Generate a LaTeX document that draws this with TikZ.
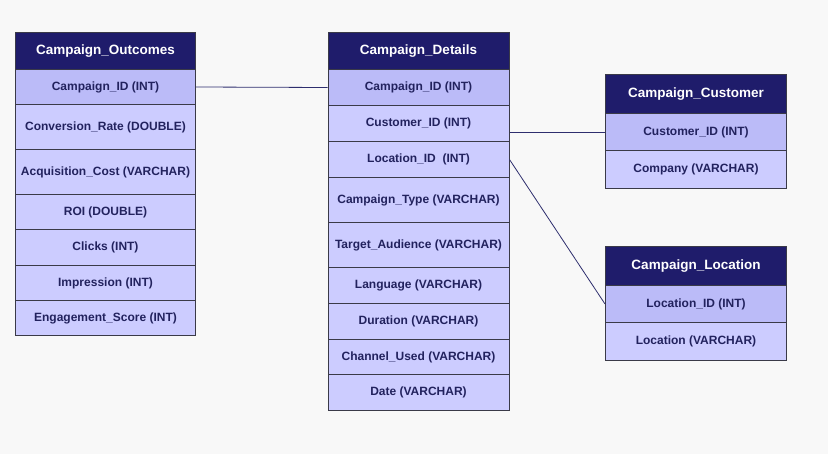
\documentclass[tikz,border=0pt]{standalone}
\usepackage{fontspec}
\setmainfont{Liberation Sans}
\definecolor{bgc}{HTML}{F8F8F8}
\definecolor{hdrc}{HTML}{1F1C6B}
\definecolor{rowc}{HTML}{CCCCFF}
\definecolor{keyc}{HTML}{BBBBF8}
\definecolor{txtc}{HTML}{22225E}
\definecolor{edgec}{HTML}{3A3A48}
\definecolor{linkc}{HTML}{2E2E6E}
\begin{document}
\begin{tikzpicture}[x=1pt,y=-1pt,
  cell/.style={draw=edgec, line width=1pt, anchor=north west, inner sep=0pt, minimum width=180pt, align=center},
  hdr/.style={cell, fill=hdrc, text=white, font=\fontsize{13.5}{15}\selectfont\bfseries},
  fld/.style={cell, fill=rowc, text=txtc, font=\fontsize{12}{14}\selectfont\bfseries},
  keyfld/.style={fld, fill=keyc},
  link/.style={draw=linkc, line width=0.8pt}]
\fill[bgc] (0,0) rectangle (828,454);
\useasboundingbox (0,0) rectangle (828,454);
% Campaign_Outcomes
\node[hdr, minimum height=37pt] (o0) at (15,32) {Campaign\_Outcomes};
\node[keyfld, minimum height=35pt] (o1) at (15,69) {Campaign\_ID (INT)};
\node[fld, minimum height=45pt] (o2) at (15,104) {Conversion\_Rate (DOUBLE)};
\node[fld, minimum height=45pt] (o3) at (15,149) {Acquisition\_Cost (VARCHAR)};
\node[fld, minimum height=35.5pt] (o4) at (15,194) {ROI (DOUBLE)};
\node[fld, minimum height=35.5pt] (o5) at (15,229.5) {Clicks (INT)};
\node[fld, minimum height=35.5pt] (o6) at (15,265) {Impression (INT)};
\node[fld, minimum height=34.5pt] (o7) at (15,300.5) {Engagement\_Score (INT)};
% Campaign_Details
\node[hdr, minimum height=37pt, minimum width=181pt] (d0) at (327.5,32) {Campaign\_Details};
\node[keyfld, minimum height=36pt, minimum width=181pt] (d1) at (327.5,69) {Campaign\_ID (INT)};
\node[fld, minimum height=36pt, minimum width=181pt] (d2) at (327.5,105) {Customer\_ID (INT)};
\node[fld, minimum height=36pt, minimum width=181pt] (d3) at (327.5,141) {Location\_ID\ \ (INT)};
\node[fld, minimum height=45pt, minimum width=181pt] (d4) at (327.5,177) {Campaign\_Type (VARCHAR)};
\node[fld, minimum height=45pt, minimum width=181pt] (d5) at (327.5,222) {Target\_Audience (VARCHAR)};
\node[fld, minimum height=36pt, minimum width=181pt] (d6) at (327.5,267) {Language (VARCHAR)};
\node[fld, minimum height=36pt, minimum width=181pt] (d7) at (327.5,303) {Duration (VARCHAR)};
\node[fld, minimum height=35pt, minimum width=181pt] (d8) at (327.5,339) {Channel\_Used (VARCHAR)};
\node[fld, minimum height=36pt, minimum width=181pt] (d9) at (327.5,374) {Date (VARCHAR)};
% Campaign_Customer
\node[hdr, minimum height=39pt, minimum width=181pt] (c0) at (605,74) {Campaign\_Customer};
\node[keyfld, minimum height=37pt, minimum width=181pt] (c1) at (605,113) {Customer\_ID (INT)};
\node[fld, minimum height=38pt, minimum width=181pt] (c2) at (605,150) {Company (VARCHAR)};
% Campaign_Location
\node[hdr, minimum height=39pt, minimum width=181pt] (l0) at (605,246) {Campaign\_Location};
\node[keyfld, minimum height=37pt, minimum width=181pt] (l1) at (605,285) {Location\_ID (INT)};
\node[fld, minimum height=38pt, minimum width=181pt] (l2) at (605,322) {Location (VARCHAR)};
% connectors
\draw[link] (o1.east) -- (d1.west);
\draw[link] (c1.west) -- (c1.west -| d2.east);
\draw[link] (d3.east) -- (l1.west);
\end{tikzpicture}
\end{document}
